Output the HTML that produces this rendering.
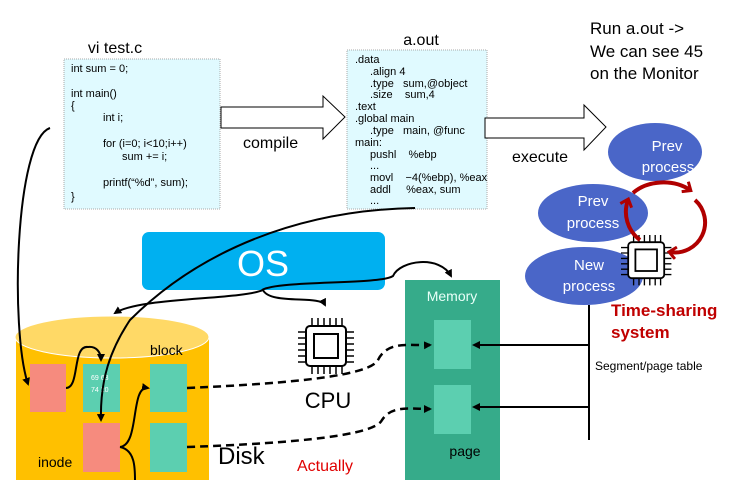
<!DOCTYPE html>
<html><head><meta charset="utf-8"><style>
body{margin:0;width:736px;height:480px;background:#fff;overflow:hidden;font-family:"Liberation Sans",sans-serif}
svg{position:absolute;left:0;top:0}
</style></head><body>
<svg width="736" height="480" viewBox="0 0 736 480" font-family="Liberation Sans, sans-serif">
<defs>
<marker id="ah" markerWidth="8" markerHeight="8" refX="6" refY="4" orient="auto" markerUnits="userSpaceOnUse"><path d="M0,0 L8,4 L0,8 Z" fill="#000"/></marker>
<marker id="ahr" markerWidth="14" markerHeight="14" refX="7" refY="7" orient="auto" markerUnits="userSpaceOnUse"><path d="M1,1 L8,7 L1,13" fill="none" stroke="#b00000" stroke-width="3"/></marker>
<g id="chip">
<rect x="8" y="8" width="40" height="40" rx="4" fill="#fff" stroke="#000" stroke-width="2"/>
<rect x="16" y="16" width="24" height="24" fill="none" stroke="#000" stroke-width="2"/>
<path d="M14,0v8M20,0v8M26,0v8M32,0v8M38,0v8M44,0v8M14,48v8M20,48v8M26,48v8M32,48v8M38,48v8M44,48v8M0,14h8M0,20h8M0,26h8M0,32h8M0,38h8M0,44h8M48,14h8M48,20h8M48,26h8M48,32h8M48,38h8M48,44h8" stroke="#000" stroke-width="1.5"/>
</g>
</defs>

<!-- test.c -->
<text x="115" y="53" font-size="16" text-anchor="middle">vi test.c</text>
<rect x="64" y="59" width="156" height="150" fill="#e0faff" stroke="#aaa" stroke-dasharray="1,1"/>
<g font-size="11">
<text x="71" y="72">int sum = 0;</text>
<text x="71" y="97">int main()</text>
<text x="71" y="109">{</text>
<text x="103" y="121">int i;</text>
<text x="103" y="147">for (i=0; i&lt;10;i++)</text>
<text x="122" y="160">sum += i;</text>
<text x="103" y="186">printf(“%d”, sum);</text>
<text x="71" y="200">}</text>
</g>
<!-- compile arrow -->
<path d="M221,107 H323 V96 L345,117 L323,139 V128 H221 Z" fill="#fff" stroke="#000"/>
<text x="243" y="148" font-size="16">compile</text>

<!-- a.out -->
<text x="421" y="45" font-size="16" text-anchor="middle">a.out</text>
<rect x="347" y="50" width="140" height="159" fill="#e0faff" stroke="#aaa" stroke-dasharray="1,1"/>
<g font-size="11">
<text x="355" y="63">.data</text>
<text x="370" y="75">.align 4</text>
<text x="370" y="87">.type&#160;&#160; sum,@object</text>
<text x="370" y="98">.size&#160;&#160;&#160; sum,4</text>
<text x="355" y="110">.text</text>
<text x="355" y="122">.global main</text>
<text x="370" y="134">.type&#160;&#160; main, @func</text>
<text x="355" y="146">main:</text>
<text x="370" y="158">pushl&#160;&#160;&#160; %ebp</text>
<text x="370" y="169">...</text>
<text x="370" y="181">movl&#160;&#160;&#160; −4(%ebp), %eax</text>
<text x="370" y="193">addl&#160;&#160;&#160;&#160; %eax, sum</text>
<text x="370" y="204">...</text>
</g>
<!-- execute arrow -->
<path d="M485,118 H584 V105 L606,127 L584,150 V138 H485 Z" fill="#fff" stroke="#000"/>
<rect x="486" y="119" width="6" height="18" fill="#fff"/>
<text x="512" y="162" font-size="16">execute</text>

<g font-size="17">
<text x="590" y="34">Run a.out -&gt;</text>
<text x="590" y="57">We can see 45</text>
<text x="590" y="79">on the Monitor</text>
</g>

<!-- OS -->
<rect x="142" y="232" width="243" height="58" rx="7" fill="#00b0f0"/>
<text x="263" y="276" font-size="36" fill="#fff" text-anchor="middle">OS</text>

<!-- Disk -->
<path d="M16,337 V480 H209 V337 Z" fill="#ffc000"/>
<ellipse cx="112" cy="337" rx="97" ry="21" fill="#ffd966" stroke="#fff" stroke-width="1"/>
<text x="150" y="355" font-size="14">block</text>
<text x="38" y="467" font-size="14">inode</text>
<rect x="30" y="364" width="36" height="48" fill="#f68b7e"/>
<rect x="83" y="364" width="37" height="48" fill="#5ccfb0"/>
<text x="91" y="380" font-size="7" fill="#fff">69 63</text>
<text x="91" y="392" font-size="7" fill="#fff">74 20</text>
<rect x="83" y="423" width="37" height="49" fill="#f68b7e"/>
<rect x="150" y="364" width="37" height="48" fill="#5ccfb0"/>
<rect x="150" y="423" width="37" height="49" fill="#5ccfb0"/>
<text x="218" y="464" font-size="24">Disk</text>
<text x="297" y="471" font-size="16" fill="#e00000">Actually</text>

<!-- CPU -->
<use href="#chip" x="298" y="318"/>
<text x="328" y="408" font-size="22" text-anchor="middle">CPU</text>

<!-- Memory -->
<rect x="405" y="280" width="95" height="200" fill="#36ab8a"/>
<text x="452" y="301" font-size="14" fill="#e8fff8" text-anchor="middle">Memory</text>
<rect x="434" y="320" width="37" height="49" fill="#5ccfb0"/>
<rect x="434" y="385" width="37" height="49" fill="#5ccfb0"/>
<text x="465" y="456" font-size="14" text-anchor="middle">page</text>

<!-- processes -->
<g fill="#4a66c8" font-size="15" text-anchor="middle">
<ellipse cx="655" cy="152" rx="47" ry="29"/>
<ellipse cx="593" cy="213" rx="55" ry="29"/>
<ellipse cx="584" cy="276" rx="59" ry="29"/>
</g>
<g fill="#fff" font-size="15" text-anchor="middle">
<text x="667" y="151">Prev</text><text x="668" y="172">process</text>
<text x="593" y="206">Prev</text><text x="593" y="228">process</text>
<text x="589" y="270">New</text><text x="589" y="291">process</text>
</g>
<use href="#chip" x="621" y="235" transform="translate(621,235) scale(0.9) translate(-621,-235)"/>
<path d="M633,193 A40,30 0 0 1 690,190" fill="none" stroke="#b00000" stroke-width="4" marker-end="url(#ahr)"/>
<path d="M695,200 A30,30 0 0 1 670,252" fill="none" stroke="#b00000" stroke-width="4" marker-end="url(#ahr)"/>
<path d="M640,240 A35,35 0 0 1 628,200" fill="none" stroke="#b00000" stroke-width="4" marker-end="url(#ahr)"/>
<g font-size="17" font-weight="bold" fill="#c00000">
<text x="611" y="316">Time-sharing</text>
<text x="611" y="338">system</text>
</g>
<text x="595" y="370" font-size="12">Segment/page table</text>
<path d="M589,305 V440" stroke="#000" stroke-width="2" fill="none"/>
<path d="M589,345 H474" stroke="#000" stroke-width="2" marker-end="url(#ah)"/>
<path d="M589,407 H474" stroke="#000" stroke-width="2" marker-end="url(#ah)"/>

<!-- connectors -->
<g fill="none" stroke="#000" stroke-width="2">
<path d="M50,128 C15,140 10,330 28,384" marker-end="url(#ah)"/>
<path d="M415,208 C300,210 200,250 130,320 C110,350 100,380 101,420" marker-end="url(#ah)"/>
<path d="M66,388 C80,388 72,345 88,347 C96,346 101,352 101,360" marker-end="url(#ah)"/>
<path d="M120,447 C140,445 130,385 148,388" marker-end="url(#ah)"/>
<path d="M120,447 C135,450 135,468 135,480"/>
<path d="M262,290 C280,280 380,285 393,276 C400,260 440,255 451,276" marker-end="url(#ah)"/>
<path d="M263,290 C240,300 140,297 115,313" marker-end="url(#ah)"/>
<path d="M263,290 C270,305 320,295 325,305" marker-end="url(#ah)"/>
</g>
<g fill="none" stroke="#000" stroke-width="2.5" stroke-dasharray="8,5">
<path d="M187,388 C300,383 370,375 378,360 C388,340 410,346 430,345" marker-end="url(#ah)"/>
<path d="M187,447 C300,443 375,435 382,420 C392,405 410,409 430,409" marker-end="url(#ah)"/>
</g>
</svg>
</body></html>
